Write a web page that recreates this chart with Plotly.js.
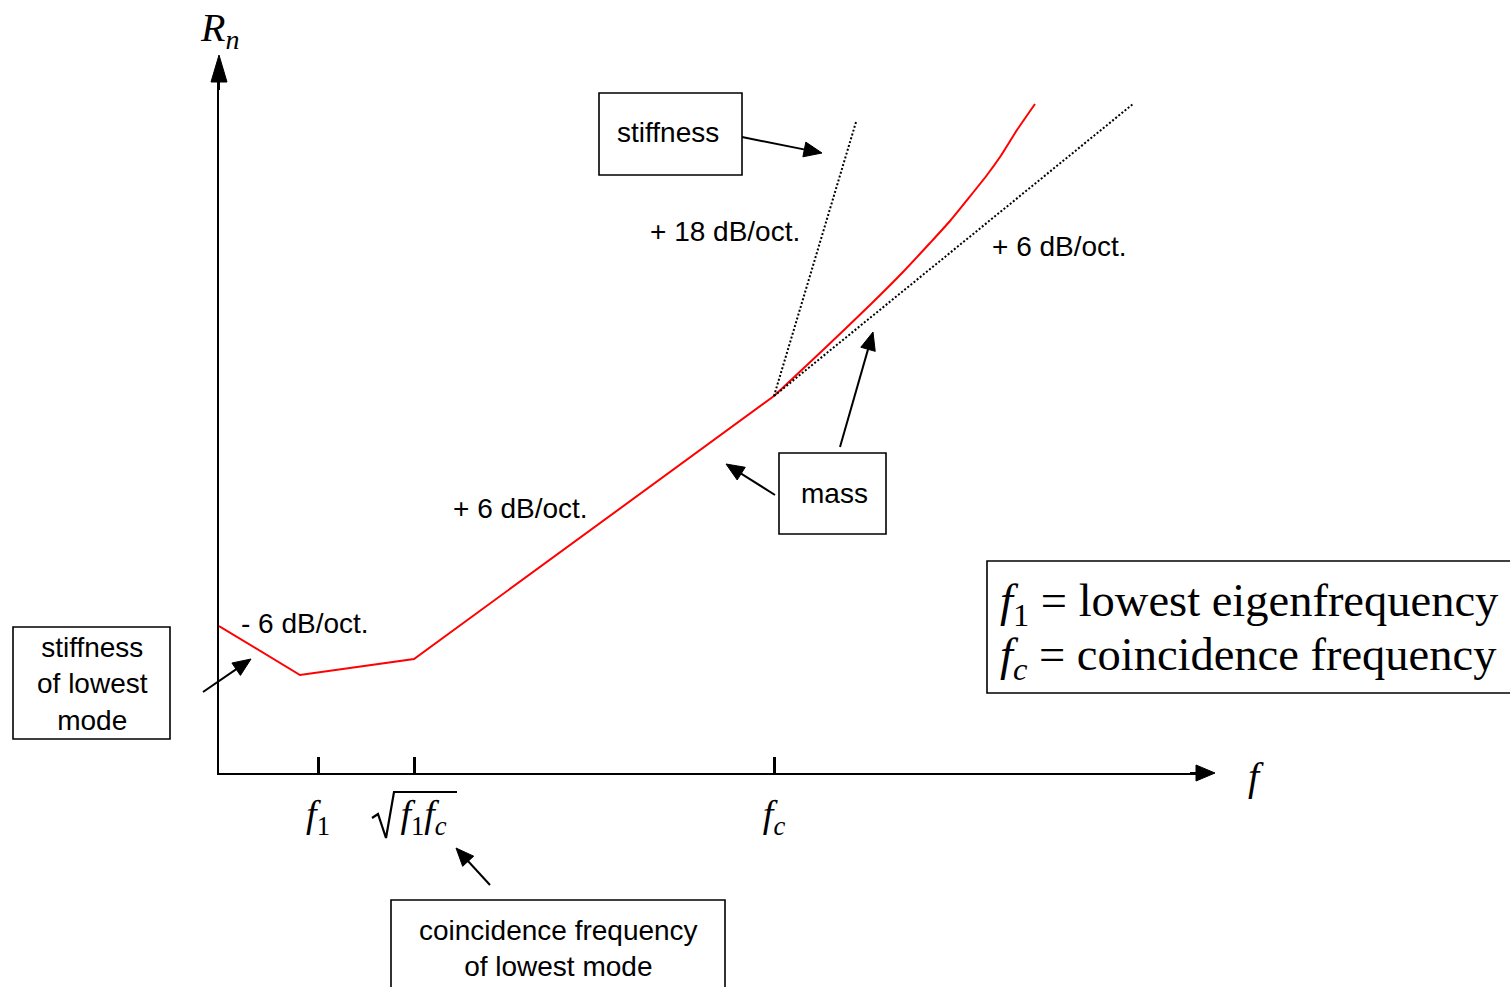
<!DOCTYPE html>
<html><head><meta charset="utf-8">
<script src="https://cdn.plot.ly/plotly-3.0.1.min.js"></script>
<style>html,body{margin:0;padding:0;background:#fff;} #chart{width:1510px;height:987px;}</style>
</head><body><div id="chart"></div>
<script>
// Schematic data: horizontal = frequency position (log scale, schematic units), vertical = Rn level (schematic units)
const lowX  = [0, 81, 195, 555];
const lowY  = [147, 98, 114, 377];
const highX = [555, 604, 651, 684, 711, 731, 768, 781, 798, 816];
const highY = [377, 423, 468, 501, 530, 552, 598, 616, 643, 669];
const massLawX = [555, 914];
const massLawY = [377, 669];
const stiffLawX = [555, 637];
const stiffLawY = [377, 651];
const tickVals = [99, 195, 555];
const tickLabels = ['<i>f</i><sub>1</sub>', '\u00A0\u00A0<i>f</i><sub>1</sub><i>f</i><sub><i>c</i></sub>', '<i>f</i><sub><i>c</i></sub>'];

const W = 1510, H = 987;
const PX = p => p / W;
const PY = p => 1 - p / H;
const SANS = 'Liberation Sans, Arial, sans-serif';
const SERIF = 'Liberation Serif, Times New Roman, serif';

const shapes = [];
const annotations = [];

function rect(x0, y0, x1, y1) {
  shapes.push({type: 'rect', xref: 'paper', yref: 'paper', x0: PX(x0), x1: PX(x1), y0: PY(y1), y1: PY(y0),
    line: {color: '#000', width: 1.6}, fillcolor: 'rgba(0,0,0,0)'});
}
function arrow(x0, y0, x1, y1, len, w) {
  len = len || 18; w = w || 15;
  const dx = x1 - x0, dy = y1 - y0, d = Math.hypot(dx, dy);
  const ux = dx / d, uy = dy / d;
  const bx = x1 - ux * len, by = y1 - uy * len;
  const nx = -uy, ny = ux;
  shapes.push({type: 'line', xref: 'paper', yref: 'paper', x0: PX(x0), y0: PY(y0), x1: PX(bx + ux * 2), y1: PY(by + uy * 2),
    line: {color: '#000', width: 2}});
  const p = 'M' + PX(x1) + ',' + PY(y1) + ' L' + PX(bx + nx * w / 2) + ',' + PY(by + ny * w / 2) +
            ' L' + PX(bx - nx * w / 2) + ',' + PY(by - ny * w / 2) + ' Z';
  shapes.push({type: 'path', xref: 'paper', yref: 'paper', path: p, fillcolor: '#000', line: {color: '#000', width: 1}});
}
function txt(x, y, text, size, font, extra) {
  annotations.push(Object.assign({xref: 'paper', yref: 'paper', x: PX(x), y: PY(y), text: text, showarrow: false,
    font: {family: font || SANS, size: size || 28, color: '#000'}, xanchor: 'center', yanchor: 'middle'}, extra || {}));
}

// axis arrowheads
arrow(219, 90, 219, 55, 27, 16);
arrow(1190, 773, 1215, 773, 19, 16);

// radical sign for sqrt(f1 fc)
shapes.push({type: 'path', xref: 'paper', yref: 'paper',
  path: 'M' + PX(372) + ',' + PY(818) + ' L' + PX(378) + ',' + PY(814) + ' L' + PX(386) + ',' + PY(838) +
        ' L' + PX(394) + ',' + PY(792) + ' L' + PX(457) + ',' + PY(792),
  line: {color: '#000', width: 2.2}});

// boxes
rect(599, 93, 742, 175);
rect(779, 453, 886, 534);
rect(13, 627, 170, 739);
rect(391, 900, 725, 1000);
rect(987, 561, 1520, 693);

// pointer arrows
arrow(742, 137, 822, 153);
arrow(840, 447, 873, 332);
arrow(775, 495, 726, 464);
arrow(203, 692, 251, 659);
arrow(490, 885, 456, 848);

// texts
txt(668, 133, 'stiffness');
txt(725, 231, '+ 18 dB/oct.');
txt(1059, 247, '+ 6 dB/oct.');
txt(520, 509, '+ 6 dB/oct.');
txt(305, 623, '- 6 dB/oct.');
txt(834, 493, 'mass');
txt(92, 684, 'stiffness<br>of lowest<br>mode');
txt(558, 948, 'coincidence frequency<br>of lowest mode');
txt(219, 30, '<i>R</i><sub><i>n</i></sub>', 40, SERIF);
txt(1256, 776, '<i>f</i>', 40, SERIF);
txt(998, 604, '<i>f</i><sub>1</sub> = lowest eigenfrequency', 46.5, SERIF, {xanchor: 'left'});
txt(998, 658, '<i>f</i><sub><i>c</i></sub> = coincidence frequency', 46.5, SERIF, {xanchor: 'left'});

const traces = [
  {x: lowX, y: lowY, mode: 'lines', line: {color: '#ff0000', width: 2}},
  {x: highX, y: highY, mode: 'lines', line: {color: '#ff0000', width: 2, shape: 'spline', smoothing: 0.5}},
  {x: massLawX, y: massLawY, mode: 'lines', line: {color: '#000', width: 2, dash: '2px,2px'}},
  {x: stiffLawX, y: stiffLawY, mode: 'lines', line: {color: '#000', width: 2, dash: '2px,2px'}}
];

const layout = {
  width: W, height: H,
  margin: {l: 0, r: 0, t: 0, b: 0},
  paper_bgcolor: '#fff', plot_bgcolor: 'rgba(0,0,0,0)',
  showlegend: false, hovermode: false,
  xaxis: {domain: [219 / W, 1197 / W], range: [0, 978], showgrid: false, zeroline: false,
    showline: true, linecolor: '#000', linewidth: 2,
    ticks: 'inside', ticklen: 16, tickwidth: 3, tickcolor: '#000',
    tickmode: 'array', tickvals: tickVals, ticktext: tickLabels, ticklabelstandoff: 6,
    tickfont: {family: SERIF, size: 38, color: '#000'}},
  yaxis: {domain: [1 - 773 / H, 1 - 82 / H], range: [0, 691], showgrid: false, zeroline: false,
    showline: true, linecolor: '#000', linewidth: 2, ticks: '', showticklabels: false},
  shapes: shapes,
  annotations: annotations
};

Plotly.newPlot('chart', traces, layout, {staticPlot: true, displayModeBar: false});
</script>
</body></html>
